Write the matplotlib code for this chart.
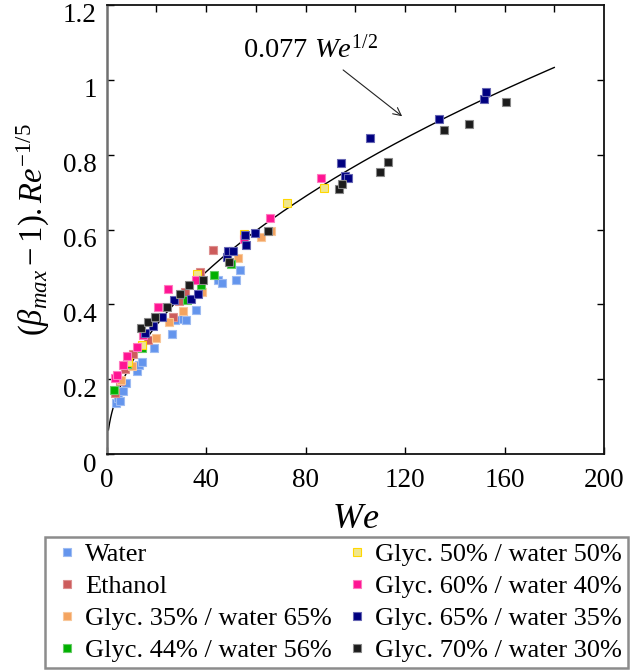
import numpy as np
import matplotlib
matplotlib.use("Agg")
import matplotlib.pyplot as plt
from matplotlib.transforms import ScaledTranslation

plt.rcParams['font.family'] = ['Liberation Serif', 'DejaVu Serif']
plt.rcParams['mathtext.fontset'] = 'custom'
plt.rcParams['mathtext.rm'] = 'Liberation Serif'
plt.rcParams['mathtext.it'] = 'Liberation Serif:italic'
plt.rcParams['mathtext.bf'] = 'Liberation Serif:bold'

# ---- data ----
water_we = [3.7, 4.7, 5.3, 6.7, 7.8, 12.1, 13.1, 14.1, 19.0, 26.1, 27.5, 30.8, 31.8, 36.0, 44.6, 46.5, 52.0, 53.7]
water_v = [0.136, 0.151, 0.142, 0.168, 0.191, 0.222, 0.239, 0.245, 0.284, 0.322, 0.359, 0.362, 0.357, 0.386, 0.465, 0.457, 0.465, 0.492]

eth_we = [3.3, 5.3, 7.4, 10.7, 16.7, 26.8, 29.2, 31.5, 37.5, 42.9]
eth_v = [0.164, 0.195, 0.226, 0.266, 0.306, 0.365, 0.408, 0.434, 0.486, 0.545]

g35_we = [5.6, 10.0, 19.8, 25.2, 30.6, 38.4, 52.7, 61.9, 65.9]
g35_v = [0.199, 0.235, 0.310, 0.352, 0.383, 0.432, 0.523, 0.581, 0.595]

g44_we = [2.9, 8.0, 14.1, 32.2, 37.8, 43.3, 50.0]
g44_v = [0.171, 0.241, 0.283, 0.412, 0.451, 0.478, 0.507]

g50_we = [8.7, 14.1, 36.3, 55.2, 72.5, 87.5]
g50_v = [0.245, 0.292, 0.481, 0.588, 0.671, 0.712]

g60_we = [3.4, 4.0, 6.4, 8.3, 12.0, 14.6, 20.6, 24.8, 36.0, 55.2, 65.7, 86.0]
g60_v = [0.204, 0.210, 0.237, 0.262, 0.287, 0.317, 0.394, 0.441, 0.465, 0.574, 0.630, 0.737]

g65_we = [15.6, 18.7, 22.1, 26.9, 33.8, 36.8, 48.3, 48.9, 50.9, 55.7, 56.0, 59.6, 94.2, 95.9, 96.9, 106.0, 133.5, 151.8, 152.6]
g65_v = [0.324, 0.341, 0.367, 0.412, 0.415, 0.428, 0.526, 0.543, 0.543, 0.584, 0.558, 0.590, 0.778, 0.744, 0.737, 0.844, 0.896, 0.949, 0.968]

g70_we = [13.8, 16.7, 19.4, 24.1, 29.6, 32.9, 38.8, 49.2, 65.0, 93.3, 94.6, 109.9, 113.2, 135.6, 145.8, 160.6]
g70_v = [0.337, 0.352, 0.365, 0.394, 0.428, 0.452, 0.466, 0.512, 0.595, 0.707, 0.722, 0.755, 0.781, 0.865, 0.882, 0.941]

labels = ['Water', 'Ethanol', 'Glyc. 35% / water 65%', 'Glyc. 44% / water 56%',
          'Glyc. 50% / water 50%', 'Glyc. 60% / water 40%', 'Glyc. 65% / water 35%', 'Glyc. 70% / water 30%']
fit_coef = 0.077
fit_max = 180

series = [(water_we, water_v), (eth_we, eth_v), (g35_we, g35_v), (g44_we, g44_v),
          (g50_we, g50_v), (g60_we, g60_v), (g65_we, g65_v), (g70_we, g70_v)]
faces = ['#6495ED', '#CD5C5C', '#F4A460', '#00B000', '#F0E68C', '#FF1493', '#000080', '#1C1C1C']
edges = ['#9DBBF2', '#DD9090', '#F8C79A', '#66CC66', '#FFD700', '#FF7ABF', '#6666B3', '#888888']

fig = plt.figure(figsize=(6.33, 6.71), dpi=100)
ax = fig.add_axes([106.7/633, 1-454/671, (604-106.7)/633, (454-5)/671])

for (x, y), fc, ec, lab in zip(series, faces, edges, labels):
    ax.plot(x, y, ls='none', marker='s', ms=5.5, mfc=fc, mec=ec, mew=0.8, label=lab)

xf = np.linspace(0.7, fit_max, 400)
ax.plot(xf, fit_coef*np.sqrt(xf), color='black', lw=1.0, zorder=1)

ax.annotate('', xy=(119.7, 0.898), xytext=(94.2, 1.031),
            arrowprops=dict(arrowstyle='->', lw=0.8, color='#222222', mutation_scale=14))
ax.text(55, 1.082, r'0.077 $We^{1/2}$', fontsize=20.5, va='center', ha='left')

ax.set_xlim(0, 200)
ax.set_ylim(0, 1.2)
ax.set_xticks([0, 40, 80, 120, 160, 200])
ax.set_yticks([0, 0.2, 0.4, 0.6, 0.8, 1.0, 1.2])
ax.set_yticklabels(['0', '0.2', '0.4', '0.6', '0.8', '1', '1.2'])
ax.tick_params(direction='in', length=5, width=1, labelsize=19.5)
ax.tick_params(axis='x', pad=10)
ax.tick_params(axis='y', pad=7)

# secondary ticks on top (every 20) and right (every 0.2)
secx = ax.secondary_xaxis('top')
secx.set_xticks(np.arange(20, 200, 20))
secx.tick_params(direction='in', length=5, width=1, labeltop=False)
secx.spines['top'].set_visible(False)
secy = ax.secondary_yaxis('right')
secy.set_yticks([0.2, 0.4, 0.6, 0.8, 1.0])
secy.tick_params(direction='in', length=5, width=1, labelright=False)
secy.spines['right'].set_visible(False)

for s in ['top', 'bottom', 'right']:
    ax.spines[s].set_linewidth(1.3)
    ax.spines[s].set_color('#111111')
ax.spines['left'].set_linewidth(1.8)
ax.spines['left'].set_color('#707070')

off = ScaledTranslation(0, -8/100, fig.dpi_scale_trans)
for lab in ax.get_yticklabels():
    lab.set_transform(lab.get_transform() + off)

ax.set_xlabel(r'$We$', fontsize=26, labelpad=7)
ax.set_ylabel(r'$(\beta_{max}-1).Re^{-1/5}$', fontsize=23.5, labelpad=8)

leg = fig.legend(loc='upper left', bbox_to_anchor=(45/633, 0, 583/633, 1-537/671),
                 mode='expand', ncol=2, fontsize=19, frameon=True, fancybox=False,
                 markerscale=1.0, handlelength=1.2, handletextpad=0.1,
                 labelspacing=0.32, borderpad=0.22, columnspacing=0.5, borderaxespad=0)
leg.get_frame().set_edgecolor('#707070')
leg.get_frame().set_linewidth(1.8)

fig.savefig('out.png', dpi=100)
